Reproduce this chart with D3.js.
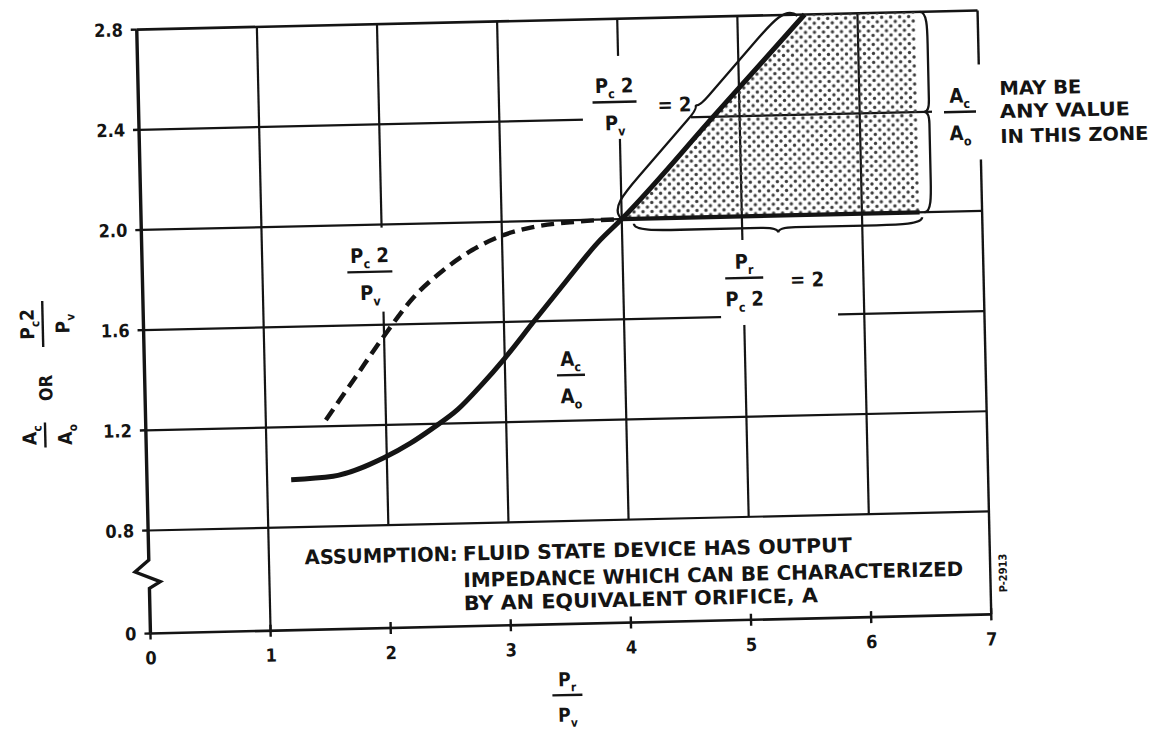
<!DOCTYPE html>
<html>
<head>
<meta charset="utf-8">
<script src="https://cdn.jsdelivr.net/npm/d3@7"></script>
<style>
  html, body { margin: 0; padding: 0; background: #fff; }
  svg { display: block; }
  text { font-family: "DejaVu Sans Condensed", "Liberation Sans Narrow", "DejaVu Sans", sans-serif; font-weight: bold; fill: #141414; }
</style>
</head>
<body>
<div id="chart"></div>
<script>
// axis ticks
var xTicks = [0, 1, 2, 3, 4, 5, 6, 7]
var yTicks = [0, 0.8, 1.2, 1.6, 2.0, 2.4, 2.8]
var yTickLabels = ['0', '0.8', '1.2', '1.6', '2.0', '2.4', '2.8']
var gridX = [1, 2, 3, 4, 5, 6]
var gridY = [0.8, 1.2, 1.6, 2.0, 2.4]

// Ac/Ao (solid)
var areaX = [1.2, 1.55, 1.98, 2.2, 2.38, 2.6, 2.8, 3.0, 3.25, 3.53, 3.8, 4.0, 4.8, 5.56]
var areaY = [0.99, 1.0, 1.07, 1.125, 1.18, 1.255, 1.35, 1.455, 1.6, 1.76, 1.91, 2.0, 2.41, 2.8]

// Pc2/Pv (dashed)
var pressX = [1.5, 1.75, 2.0, 2.25, 2.5, 2.75, 3.0, 3.25, 3.6, 4.0]
var pressY = [1.225, 1.39, 1.555, 1.705, 1.81, 1.89, 1.945, 1.975, 1.993, 2.0]

// Pr/Pc2 = 2 line and the zone where Ac/Ao may be anything
var limitX = [4.0, 6.48]
var limitY = [2.0, 2.0]
var zoneX = [4.0, 5.56, 6.48, 6.48]
var zoneY = [2.0, 2.8, 2.8, 2.0]

var assumption = ['FLUID STATE DEVICE HAS OUTPUT', 'IMPEDANCE WHICH CAN BE CHARACTERIZED', 'BY AN EQUIVALENT ORIFICE, A']
var zoneNote = ['MAY BE', 'ANY VALUE', 'IN THIS ZONE']

var W = 1153, H = 733
var ink = '#141414'

var svg = d3.select('#chart').append('svg').attr('width', W).attr('height', H)
svg.append('rect').attr('width', W).attr('height', H).attr('fill', '#fff')

var pat = svg.append('defs').append('pattern')
  .attr('id', 'dots').attr('patternUnits', 'userSpaceOnUse')
  .attr('width', 9).attr('height', 9)
pat.append('circle').attr('cx', 2).attr('cy', 2).attr('r', 1.7).attr('fill', '#3c3c3c')
pat.append('circle').attr('cx', 6.5).attr('cy', 6.5).attr('r', 1.7).attr('fill', '#3c3c3c')

// the scan is a little tilted
var g = svg.append('g').attr('transform', 'rotate(-1.3 564 322)')

var x = d3.scaleLinear().domain([0, 7]).range([143.5, 984.5])
var y = d3.scaleLinear().domain([0, 0.8, 2.8]).range([624, 521, 20])

// grid
gridX.forEach(function (v) {
  g.append('line')
    .attr('x1', x(v)).attr('x2', x(v))
    .attr('y1', y(v === 1 ? 0 : 0.8)).attr('y2', y(2.8))
    .attr('stroke', ink).attr('stroke-width', 2.2)
})
gridY.forEach(function (v) {
  g.append('line')
    .attr('x1', x(0)).attr('x2', x(7))
    .attr('y1', y(v)).attr('y2', y(v))
    .attr('stroke', ink).attr('stroke-width', 2.2)
})

// frame
g.append('line').attr('x1', x(0)).attr('x2', x(7)).attr('y1', y(2.8)).attr('y2', y(2.8))
  .attr('stroke', ink).attr('stroke-width', 2.6)
g.append('line').attr('x1', x(0)).attr('x2', x(7)).attr('y1', y(0)).attr('y2', y(0))
  .attr('stroke', ink).attr('stroke-width', 2.6)
g.append('line').attr('x1', x(7)).attr('x2', x(7)).attr('y1', y(0)).attr('y2', y(2.8))
  .attr('stroke', ink).attr('stroke-width', 2.4)

// left axis with break
var x0 = x(0)
var axisPts = [[x0, y(2.8)], [x0, y(0.57)], [x0 - 14, y(0.48)], [x0 + 11, y(0.40)], [x0, y(0.35)], [x0, y(0)]]
g.append('path').attr('d', d3.line()(axisPts))
  .attr('fill', 'none').attr('stroke', ink).attr('stroke-width', 3.4).attr('stroke-linejoin', 'miter')

// ticks
yTicks.forEach(function (v, i) {
  g.append('line').attr('x1', x0 - 6).attr('x2', x0).attr('y1', y(v)).attr('y2', y(v))
    .attr('stroke', ink).attr('stroke-width', 2.4)
  g.append('text').attr('x', x0 - 14).attr('y', y(v) + 6.5)
    .attr('text-anchor', 'end').style('font-size', '18px').text(yTickLabels[i])
})
xTicks.forEach(function (v) {
  g.append('line').attr('x1', x(v)).attr('x2', x(v))
    .attr('y1', y(0) - (v === 0 ? 0 : 6)).attr('y2', y(0) + 6)
    .attr('stroke', ink).attr('stroke-width', 2.4)
  g.append('text').attr('x', x(v)).attr('y', y(0) + 31)
    .attr('text-anchor', 'middle').style('font-size', '18px').text(v)
})

// white patches behind labels that sit on grid lines
function patch(cx, cy, l, r, t, b) {
  g.append('rect').attr('x', cx + l).attr('y', cy + t)
    .attr('width', r - l).attr('height', b - t).attr('fill', '#fff')
}
patch(x(3.962), y(2.468), -32, 76, -46, 37)
patch(x(1.894), y(1.812), -25, 28, -44, 40)
patch(x(5.008), y(1.754), -24, 93, -38, 47)
patch(x(6.835), y(2.397), -28, 30, -47, 48)

// zone
g.append('path')
  .attr('d', d3.line()(d3.zip(zoneX, zoneY).map(function (d) { return [x(d[0]), y(d[1])] })) + 'Z')
  .attr('fill', 'url(#dots)').attr('stroke', 'none')

var line = d3.line().x(function (d) { return x(d[0]) }).y(function (d) { return y(d[1]) })

g.append('path').attr('d', line.curve(d3.curveMonotoneX)(d3.zip(pressX, pressY)))
  .attr('fill', 'none').attr('stroke', ink).attr('stroke-width', 4.5)
  .attr('stroke-dasharray', '13,7')

g.append('path').attr('d', line.curve(d3.curveLinear)(d3.zip(limitX, limitY)))
  .attr('fill', 'none').attr('stroke', ink).attr('stroke-width', 4.2)

g.append('path').attr('d', line.curve(d3.curveMonotoneX)(d3.zip(areaX, areaY)))
  .attr('fill', 'none').attr('stroke', ink).attr('stroke-width', 5)

// braces
function brace(p0, p1, side, h, k) {
  var dx = p1[0] - p0[0], dy = p1[1] - p0[1], len = Math.hypot(dx, dy)
  var nx = -dy / len * side, ny = dx / len * side
  function P(t, o) { return [p0[0] + dx * t + nx * o, p0[1] + dy * t + ny * o] }
  var p = d3.path()
  var a
  p.moveTo.apply(p, P(0, 0))
  a = P(0, h).concat(P(0.08, h), P(0.16, h)); p.bezierCurveTo.apply(p, a)
  p.lineTo.apply(p, P(0.44, h))
  a = P(0.5, h).concat(P(0.5, k)); p.quadraticCurveTo.apply(p, a)
  a = P(0.5, h).concat(P(0.56, h)); p.quadraticCurveTo.apply(p, a)
  p.lineTo.apply(p, P(0.84, h))
  a = P(0.92, h).concat(P(1, h), P(1, 0)); p.bezierCurveTo.apply(p, a)
  g.append('path').attr('d', p.toString())
    .attr('fill', 'none').attr('stroke', ink).attr('stroke-width', 2.3)
}
brace([x(4.0), y(2.0)], [x(5.5), y(2.795)], -1, 15, 19)
brace([x(4.1), y(1.98)], [x(6.5), y(1.98)], 1, 7, 12)
brace([x(6.52), y(2.8)], [x(6.52), y(2.0)], -1, 7, 2)

// text with subscripts, "_" marks the next letter as a subscript
function parts(t, s, size) {
  var down = false
  for (var i = 0; i < s.length; i++) {
    var ch = s[i]
    if (ch === '_') {
      i++
      t.append('tspan').attr('dy', size * 0.28).style('font-size', (size * 0.62) + 'px').text(s[i])
      down = true
    } else {
      var sp = t.append('tspan').text(ch)
      if (down) { sp.attr('dy', -size * 0.28); down = false }
    }
  }
}

function frac(parent, cx, cy, num, den, barW, size) {
  var f = parent.append('g').attr('transform', 'translate(' + cx + ',' + cy + ')')
  f.append('line').attr('x1', -barW / 2).attr('x2', barW / 2)
    .attr('stroke', ink).attr('stroke-width', 2.4)
  parts(f.append('text').attr('text-anchor', 'middle').attr('y', -size * 0.47).style('font-size', size + 'px'), num, size)
  parts(f.append('text').attr('text-anchor', 'middle').attr('y', size * 1.4).style('font-size', size + 'px'), den, size)
  return f
}

frac(g, x(3.962), y(2.468), 'P_c 2', 'P_v', 44, 20)
g.append('text').attr('x', x(4.32)).attr('y', y(2.452) + 7).style('font-size', '20px').text('= 2')

frac(g, x(1.894), y(1.812), 'P_c 2', 'P_v', 45, 20)
frac(g, x(3.548), y(1.382), 'A_c', 'A_o', 28, 20)

frac(g, x(5.008), y(1.754), 'P_r', 'P_c 2', 38, 20)
g.append('text').attr('x', x(5.39)).attr('y', y(1.742) + 7).style('font-size', '20px').text('= 2')

frac(g, x(6.835), y(2.397), 'A_c', 'A_o', 32, 20)
var noteY = [2.461, 2.369, 2.269]
var noteW = [82, 130, 148]
zoneNote.forEach(function (s, i) {
  g.append('text').attr('x', x(7.167)).attr('y', y(noteY[i]))
    .attr('textLength', noteW[i]).attr('lengthAdjust', 'spacingAndGlyphs')
    .style('font-size', '19px').text(s)
})

// assumption box
g.append('text').attr('x', x(1.298)).attr('y', y(0.51))
  .attr('textLength', 153).attr('lengthAdjust', 'spacingAndGlyphs')
  .style('font-size', '20px').text('ASSUMPTION:')
var assumeY = [0.51, 0.304, 0.125]
var assumeW = [389, 500, 354]
assumption.forEach(function (s, i) {
  g.append('text').attr('x', x(2.614)).attr('y', y(assumeY[i]))
    .attr('textLength', assumeW[i]).attr('lengthAdjust', 'spacingAndGlyphs')
    .style('font-size', '20px').text(s)
})

g.append('text').attr('transform', 'translate(1001,583) rotate(-90)')
  .attr('text-anchor', 'middle').style('font-size', '11px').text('P-2913')

// axis titles
frac(g, x(3.458), 695, 'P_r', 'P_v', 30, 19)

var yt = g.append('g').attr('transform', 'translate(42.8,363.2) rotate(-90)')
frac(yt, -60, 0, 'A_c', 'A_o', 25, 19)
yt.append('text').attr('x', -13).attr('y', 8).attr('text-anchor', 'middle')
  .style('font-size', '18px').text('OR')
frac(yt, 51, 0, 'P_c2', 'P_v', 46, 19)
</script>
</body>
</html>
